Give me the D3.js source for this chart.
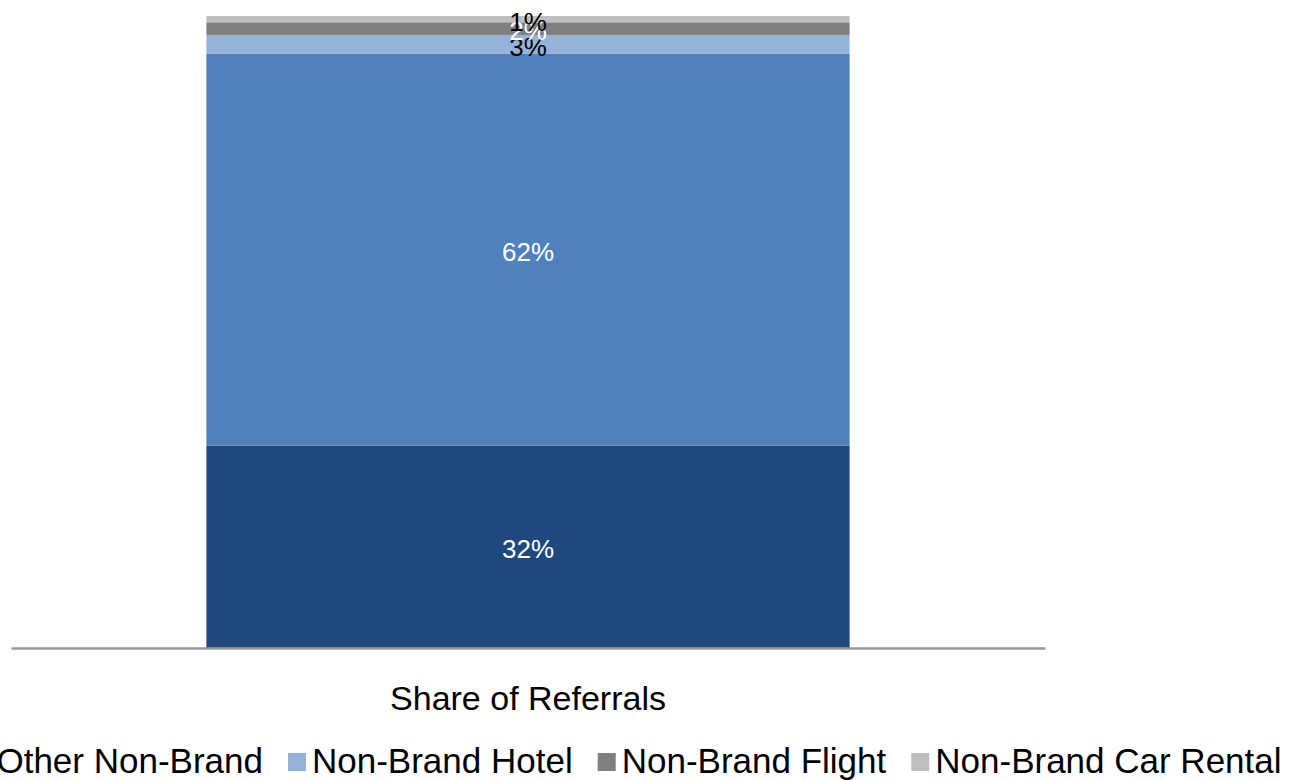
<!DOCTYPE html>
<html>
<head>
<meta charset="utf-8">
<script src="https://cdn.jsdelivr.net/npm/d3@7"></script>
<style>
  html, body { margin: 0; padding: 0; background: #fff; overflow: hidden; }
  svg { display: block; font-family: "Liberation Sans", Arial, sans-serif; }
</style>
</head>
<body>
<svg id="chart" width="1290" height="780"></svg>
<script>
// Referral share by source, stacked bottom to top
const categories = ["Share of Referrals"];
const shareValues = [32, 62, 3, 2, 1];
const segmentKeys = ["Other Non-Brand (dark)", "Other Non-Brand", "Non-Brand Hotel", "Non-Brand Flight", "Non-Brand Car Rental"];
const segmentColors = ["#1f497d", "#4f81bd", "#95b3d7", "#808080", "#bfbfbf"];
const labelColors = ["#ffffff", "#ffffff", "#000000", "#ffffff", "#000000"];
const legendNames = ["Other Non-Brand", "Non-Brand Hotel", "Non-Brand Flight", "Non-Brand Car Rental"];
const legendColors = ["#1f497d", "#95b3d7", "#808080", "#bfbfbf"];

const svg = d3.select("#chart");
const plot = { left: 11, right: 1045, top: 16, bottom: 648 };

const x = d3.scaleBand().domain(categories).range([plot.left, plot.right]).padding(0.233);
const y = d3.scaleLinear().domain([0, 100]).range([plot.bottom, plot.top]);

// one row per category, one column per segment
const row = { category: categories[0] };
segmentKeys.forEach((k, i) => { row[k] = shareValues[i]; });
const stacked = d3.stack().keys(segmentKeys)([row]);

const bars = svg.append("g");
stacked.forEach((layer, i) => {
  bars.selectAll(null).data(layer).enter().append("rect")
    .attr("x", d => x(d.data.category))
    .attr("width", x.bandwidth())
    .attr("y", d => y(d[1]))
    .attr("height", d => y(d[0]) - y(d[1]))
    .attr("fill", segmentColors[i]);
});

// value labels centred in each segment
const labels = svg.append("g").attr("font-size", 26).attr("text-anchor", "middle");
stacked.forEach((layer, i) => {
  labels.selectAll(null).data(layer).enter().append("text")
    .attr("x", d => x(d.data.category) + x.bandwidth() / 2)
    .attr("y", d => (y(d[0]) + y(d[1])) / 2)
    .attr("dy", "0.44em")
    .attr("fill", labelColors[i])
    .text(d => d3.format("d")(d[1] - d[0]) + "%");
});

// category axis
const axis = svg.append("g")
  .attr("transform", `translate(0,${plot.bottom})`)
  .call(d3.axisBottom(x).tickSize(0).tickSizeOuter(0).tickPadding(38));
axis.select(".domain").attr("stroke", "#9a9a9a").attr("stroke-width", 2.5);
axis.selectAll(".tick text")
  .attr("font-family", "'Liberation Sans', Arial, sans-serif")
  .attr("font-size", 34).attr("fill", "#000");

// legend, centred as one row
const legend = svg.append("g").attr("font-size", 35);
const box = 18, boxGap = 6, itemGap = 25, baseline = 773;
const items = legend.selectAll("g").data(legendNames).enter().append("g");
items.append("text").attr("y", baseline).attr("fill", "#000").text(d => d);
const widths = [];
items.each(function () { widths.push(this.querySelector("text").getComputedTextLength()); });
const total = d3.sum(widths) + legendNames.length * (box + boxGap) + (legendNames.length - 1) * itemGap;
let cx = 627 - total / 2;
items.each(function (d, i) {
  const g = d3.select(this);
  g.insert("rect", "text")
    .attr("x", cx).attr("y", baseline - 20).attr("width", box).attr("height", box)
    .attr("fill", legendColors[i]);
  g.select("text").attr("x", cx + box + boxGap);
  cx += box + boxGap + widths[i] + itemGap;
});
</script>
</body>
</html>
